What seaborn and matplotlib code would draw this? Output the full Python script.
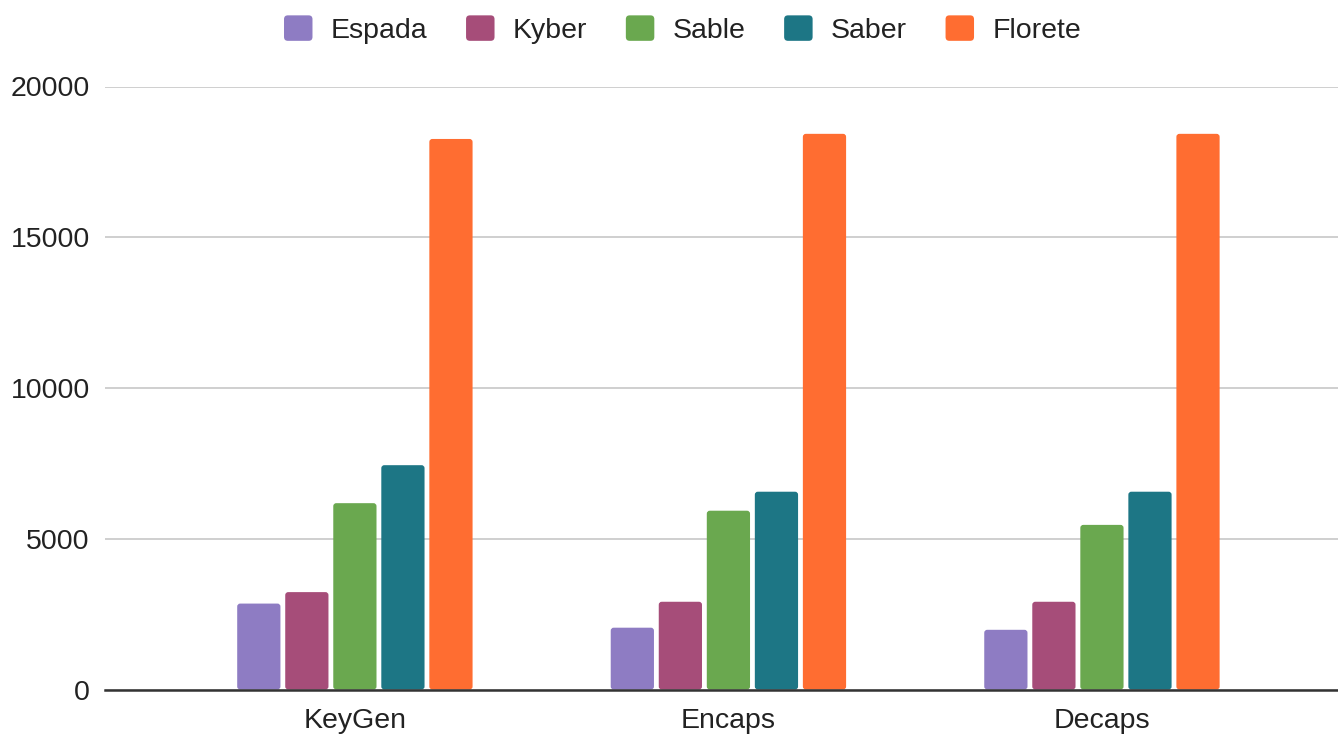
import matplotlib
matplotlib.use("Agg")
import matplotlib.pyplot as plt
from matplotlib.patches import FancyBboxPatch, Patch
from matplotlib.legend_handler import HandlerPatch
import seaborn as sns
import pandas as pd

# Data
operations = ["KeyGen", "Encaps", "Decaps"]
schemes = ["Espada", "Kyber", "Sable", "Saber", "Florete"]
espada = [2850, 2050, 1980]
kyber = [3230, 2910, 2910]
sable = [6180, 5930, 5460]
saber = [7440, 6560, 6560]
florete = [18260, 18430, 18430]
colors = ["#8e7cc3", "#a64d79", "#6aa84f", "#1d7685", "#ff6d31"]
yticks = [0, 5000, 10000, 15000, 20000]

series = [espada, kyber, sable, saber, florete]
df = pd.DataFrame(
    [(op, s, vals[i]) for s, vals in zip(schemes, series) for i, op in enumerate(operations)],
    columns=["Operation", "Scheme", "Value"],
)

sns.set_theme(style="white")
plt.rcParams["font.family"] = ["Liberation Sans", "DejaVu Sans"]
FS = 20.5

fig = plt.figure(figsize=(13.38, 7.34), dpi=100)
ax = fig.add_axes([105 / 1338, 44.5 / 734, 1 - 105 / 1338, (689.5 - 86.5) / 734])

sns.barplot(
    data=df, x="Operation", y="Value", hue="Scheme",
    hue_order=schemes, order=operations, palette=colors,
    width=0.643, gap=0.1, saturation=1, legend=False, ax=ax,
    errorbar=None, edgecolor="none", linewidth=0,
)

ax.set_xlim(-0.669, 2.632)
ax.set_ylim(0, 20000)

# Rounded corners on bars
x_per_px = (2.632 + 0.669) / (1338 - 105)
y_per_px = 20000 / 603.0
radius_px = 3.0
bars = [p for p in ax.patches]
for p in bars:
    x, y = p.get_x(), p.get_y()
    w, h = p.get_width(), p.get_height()
    fc = p.get_facecolor()
    p.remove()
    fb = FancyBboxPatch(
        (x, y), w, h,
        boxstyle=f"round,pad=0,rounding_size={radius_px * x_per_px}",
        mutation_aspect=y_per_px / x_per_px,
        facecolor=fc, edgecolor="none", linewidth=0, zorder=2,
    )
    ax.add_patch(fb)

ax.set_yticks(yticks)
ax.set_yticklabels([str(v) for v in yticks])
ax.yaxis.grid(True, color="#cccccc", linewidth=1.3, zorder=0)
ax.set_axisbelow(True)
for side in ["left", "right", "top"]:
    ax.spines[side].set_visible(False)
ax.spines["bottom"].set_color("#333333")
ax.spines["bottom"].set_linewidth(1.8)
ax.spines["bottom"].set_zorder(3)
ax.tick_params(axis="both", length=0, labelsize=FS, colors="#222222")
ax.tick_params(axis="y", pad=11)
ax.tick_params(axis="x", pad=13)
ax.set_xlabel("")
ax.set_ylabel("")


class RoundedSquareHandler(HandlerPatch):
    def create_artists(self, legend, orig_handle, xdescent, ydescent,
                       width, height, fontsize, trans):
        r = 0.15 * min(width, height)
        p = FancyBboxPatch(
            (-xdescent, -ydescent), width, height,
            boxstyle=f"round,pad=0,rounding_size={r}",
            facecolor=orig_handle.get_facecolor(), edgecolor="none",
            transform=trans,
        )
        return [p]


handles = [Patch(facecolor=c, edgecolor="none") for c in colors]
fig.legend(
    handles, schemes, loc="upper center", bbox_to_anchor=(0.5102, 1.014),
    ncol=5, frameon=False, fontsize=FS, handlelength=1.0, handleheight=1.0,
    handletextpad=0.65, columnspacing=1.35, labelcolor="#222222",
    handler_map={Patch: RoundedSquareHandler()},
)

fig.savefig("out.png", dpi=100)
